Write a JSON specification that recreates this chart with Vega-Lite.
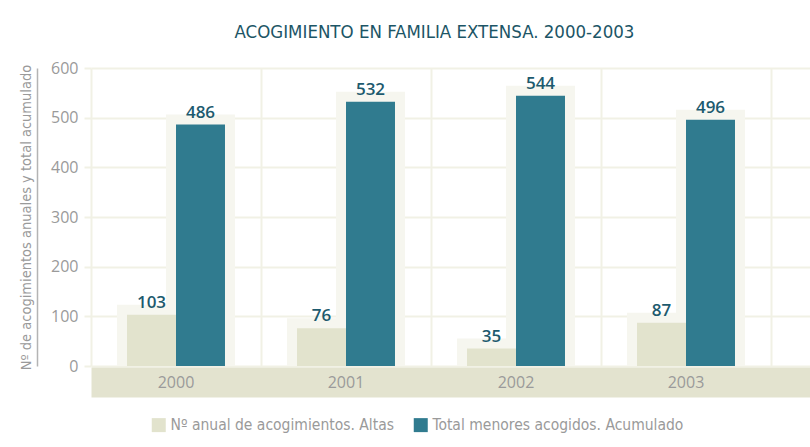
{
  "$schema": "https://vega.github.io/schema/vega-lite/v6.json",
  "width": 719,
  "height": 298,
  "autosize": "none",
  "padding": {"left": 91, "top": 68, "right": 0, "bottom": 81},
  "background": "white",
  "config": {"view": {"stroke": null}},
  "title": {
    "text": "ACOGIMIENTO EN FAMILIA EXTENSA. 2000-2003",
    "font": "DejaVu Sans Condensed, Lato, sans-serif",
    "fontSize": 18.5,
    "fontWeight": "normal",
    "color": "#1c5566",
    "anchor": "middle",
    "dx": -16,
    "offset": 19
  },
  "data": {
    "values": [
      {"year": "2000", "serie": "Nº anual de acogimientos. Altas", "value": 103},
      {"year": "2000", "serie": "Total menores acogidos. Acumulado", "value": 486},
      {"year": "2001", "serie": "Nº anual de acogimientos. Altas", "value": 76},
      {"year": "2001", "serie": "Total menores acogidos. Acumulado", "value": 532},
      {"year": "2002", "serie": "Nº anual de acogimientos. Altas", "value": 35},
      {"year": "2002", "serie": "Total menores acogidos. Acumulado", "value": 544},
      {"year": "2003", "serie": "Nº anual de acogimientos. Altas", "value": 87},
      {"year": "2003", "serie": "Total menores acogidos. Acumulado", "value": 496}
    ]
  },
  "encoding": {
    "xOffset": {
      "field": "serie",
      "type": "nominal",
      "sort": ["Nº anual de acogimientos. Altas", "Total menores acogidos. Acumulado"],
      "scale": {"paddingInner": 0, "paddingOuter": 0.735}
    }
  },
  "layer": [
    {
      "mark": {"type": "bar", "color": "#f6f6ef", "stroke": "#f6f6ef", "strokeWidth": 20, "clip": true},
      "encoding": {
        "x": {
          "field": "year",
          "type": "nominal",
          "scale": {"paddingInner": 0, "paddingOuter": 0.1147, "align": 0},
          "axis": {
            "orient": "bottom",
            "title": null,
            "domain": true,
            "domainColor": "#e3e3cf",
            "domainWidth": 30,
            "offset": 16,
            "ticks": false,
            "labels": false,
            "grid": true,
            "gridColor": "#f1f1e5",
            "gridWidth": 2,
            "tickBand": "extent"
          }
        },
        "y": {
          "field": "value",
          "type": "quantitative",
          "scale": {"domain": [0, 600]},
          "axis": {
            "orient": "left",
            "offset": 54,
            "domain": true,
            "domainColor": "#b4b4b4",
            "domainWidth": 1.5,
            "labels": false,
            "ticks": false,
            "grid": false,
            "title": "Nº de acogimientos anuales y total acumulado",
            "titleFont": "DejaVu Sans Condensed, Lato, sans-serif",
            "titleFontSize": 14.5,
            "titleFontWeight": "normal",
            "titleColor": "#9a9a9a",
            "titlePadding": 4
          }
        }
      }
    },
    {
      "mark": {"type": "bar"},
      "encoding": {
        "x": {
          "field": "year",
          "type": "nominal",
          "scale": {"paddingInner": 0, "paddingOuter": 0.1147, "align": 0},
          "axis": {
            "orient": "bottom",
            "title": null,
            "domain": false,
            "offset": 16,
            "ticks": false,
            "tickSize": 0,
            "grid": false,
            "labelColor": "#9a9a9a",
            "labelFont": "Open Sans",
            "labelFontSize": 16,
            "labelPadding": 0,
            "labelBaseline": "middle",
            "labelAngle": 0
          }
        },
        "y": {
          "field": "value",
          "type": "quantitative",
          "scale": {"domain": [0, 600]},
          "axis": {
            "orient": "left",
            "title": null,
            "domain": false,
            "grid": true,
            "gridColor": "#f1f1e5",
            "gridWidth": 2,
            "tickColor": "#f1f1e5",
            "tickSize": 7,
            "tickWidth": 2,
            "labelColor": "#9a9a9a",
            "labelFont": "Open Sans",
            "labelFontSize": 16,
            "labelPadding": 6,
            "values": [0, 100, 200, 300, 400, 500, 600]
          }
        },
        "color": {
          "field": "serie",
          "type": "nominal",
          "sort": ["Nº anual de acogimientos. Altas", "Total menores acogidos. Acumulado"],
          "scale": {"range": ["#e2e3cd", "#307b8f"]},
          "legend": {
            "title": null,
            "orient": "none",
            "legendX": 60,
            "legendY": 349,
            "direction": "horizontal",
            "symbolType": "square",
            "symbolSize": 196,
            "symbolStrokeWidth": 0,
            "symbolOpacity": 1,
            "labelFont": "DejaVu Sans Condensed, Lato, sans-serif",
            "labelFontSize": 15.5,
            "labelColor": "#9a9a9a",
            "labelOffset": 4,
            "columnPadding": 18,
            "labelLimit": 400
          }
        }
      }
    },
    {
      "mark": {"type": "text", "baseline": "bottom", "dy": -3, "font": "Open Sans", "fontSize": 17, "fontWeight": 600, "color": "#1d5a6e"},
      "encoding": {
        "x": {
          "field": "year",
          "type": "nominal",
          "scale": {"paddingInner": 0, "paddingOuter": 0.1147, "align": 0},
          "axis": null
        },
        "y": {"field": "value", "type": "quantitative", "scale": {"domain": [0, 600]}, "axis": null},
        "text": {"field": "value", "type": "quantitative"}
      }
    }
  ],
  "resolve": {"axis": {"y": "independent", "x": "independent"}}
}
